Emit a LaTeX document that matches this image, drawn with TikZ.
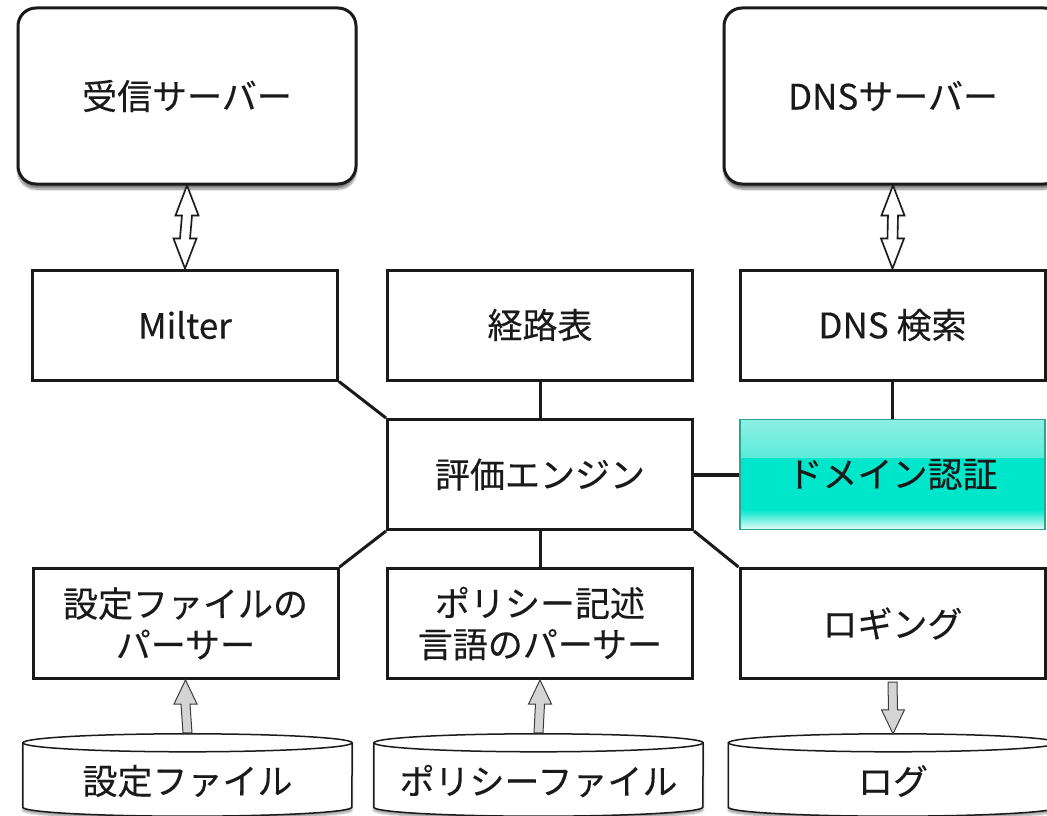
\documentclass[tikz,border=0pt]{standalone}
\usepackage{fontspec}
\setmainfont{Noto Sans CJK JP}[FakeBold=0.25]
\usetikzlibrary{calc,shadows.blur}

\definecolor{ink}{HTML}{1A1A1A}
\definecolor{domT}{HTML}{8CEFE3}
\definecolor{domM}{HTML}{00E6CB}
\definecolor{domL}{HTML}{E6FCF8}
\definecolor{domEdge}{HTML}{2AA58E}
\definecolor{flowgray}{HTML}{D4D4D4}

\tikzset{
  lbl/.style={font=\fontsize{35}{41}\selectfont, text=ink, align=center},
  server/.style={lbl, draw=ink, line width=3pt, rounded corners=18pt, fill=white,
    minimum width=338pt, minimum height=176pt,
    blur shadow={shadow xshift=0pt, shadow yshift=-5pt, shadow blur steps=8, shadow opacity=50}},
  module/.style={lbl, draw=ink, line width=3pt, fill=white,
    minimum width=305pt, minimum height=110pt},
  authbox/.style={lbl, draw=domEdge, line width=1.8pt, fill=domM,
    minimum width=305pt, minimum height=110pt,
    path picture={
      \shade[top color=domT, bottom color=domM]
        (path picture bounding box.north west)
        rectangle ($(path picture bounding box.north east)+(0,38)$);
      \shade[top color=domM, bottom color=domL]
        ($(path picture bounding box.south west)+(0,-20)$)
        rectangle (path picture bounding box.south east);
    }},
  store/.style={lbl, minimum width=329pt, minimum height=64pt, inner sep=0pt},
  cylline/.style={draw=ink, line width=1.5pt, fill=white},
  link/.style={draw=ink, line width=3pt},
  dblarrow/.style={draw=ink, line width=1.6pt, fill=white, line join=miter},
  flowarrow/.style={draw=ink!85, line width=1pt, fill=flowgray, line join=miter},
}

\begin{document}
\begin{tikzpicture}[x=1pt, y=-1pt]
\useasboundingbox (0,0) rectangle (1047,816);

% servers
\node[server] (srv) at (187,96) {受信サーバー};
\node[server] (dns) at (893,96) {DNSサーバー};

% modules
\node[module] (milter) at (185,325) {Milter};
\node[module] (route)  at (540,325) {経路表};
\node[module] (dnsq)   at (892.5,325) {DNS 検索};
\node[module] (eval)   at (540,474.5) {評価エンジン};
\node[authbox] (dom)   at (892.5,474.5) {ドメイン認証};
\node[module] (confp)  at (185.5,623.5) {設定ファイルの\\パーサー};
\node[module] (polp)   at (540,623.5) {ポリシー記述\\言語のパーサー};
\node[module] (logn)   at (892.5,623.5) {ロギング};

% storage cylinders
\foreach \nm/\cx/\txt in {cfile/187.5/設定ファイル, pfile/538.5/ポリシーファイル, lfile/893/ログ}{
  \node[store] (\nm) at (\cx,775) {};
  \path[cylline, blur shadow={shadow xshift=0pt, shadow yshift=-3pt, shadow blur steps=5, shadow opacity=40}]
      (\nm.north west) -- (\nm.south west)
      arc[start angle=180, end angle=0, x radius=164.5, y radius=9]
      -- (\nm.north east) -- cycle;
  \path[cylline] (\nm.north) ellipse[x radius=164.5, y radius=9];
  \node[lbl] at ($(\nm.center)+(0,6)$) {\txt};
}

% connections around the engine
\draw[link] (milter.south east) -- (eval.north west);
\draw[link] (route.south) -- (eval.north);
\draw[link] (dnsq.south) -- (dom.north);
\draw[link, line width=4pt] (eval.east) -- (dom.west);
\draw[link] (eval.south west) -- (confp.north east);
\draw[link] (eval.south) -- (polp.north);
\draw[link] (eval.south east) -- (logn.north west);

% two-way exchange with the servers
\foreach \a/\b in {srv/milter, dns/dnsq}{
  \draw[dblarrow, blur shadow={shadow xshift=0pt, shadow yshift=0pt, shadow blur steps=5, shadow opacity=30}]
    (\a.south) -- ++(11.5,30) -- ++(-6.5,0)
    -- ($(\b.north)+(5,-30)$) -- ++(6.5,0) -- (\b.north)
    -- ++(-11.5,-30) -- ++(6.5,0)
    -- ($(\a.south)+(-5,30)$) -- ++(-6.5,0) -- cycle;
}

% file reads
\foreach \f/\p in {cfile/confp, pfile/polp}{
  \draw[flowarrow] (\p.south) -- ++(11.5,24) -- ++(-7,0)
    -- ($(\f.north)+(4.5,-10)$) -- ++(-9,0)
    -- ($(\p.south)+(-4.5,24)$) -- ++(-7,0) -- cycle;
}

% log output
\draw[flowarrow] ($(lfile.north)+(0,-9)$) -- ++(11.5,-24) -- ++(-7,0)
  -- ($(logn.south)+(4.5,2)$) -- ++(-9,0)
  -- ($(lfile.north)+(-4.5,-33)$) -- ++(-7,0) -- cycle;
\end{tikzpicture}
\end{document}
